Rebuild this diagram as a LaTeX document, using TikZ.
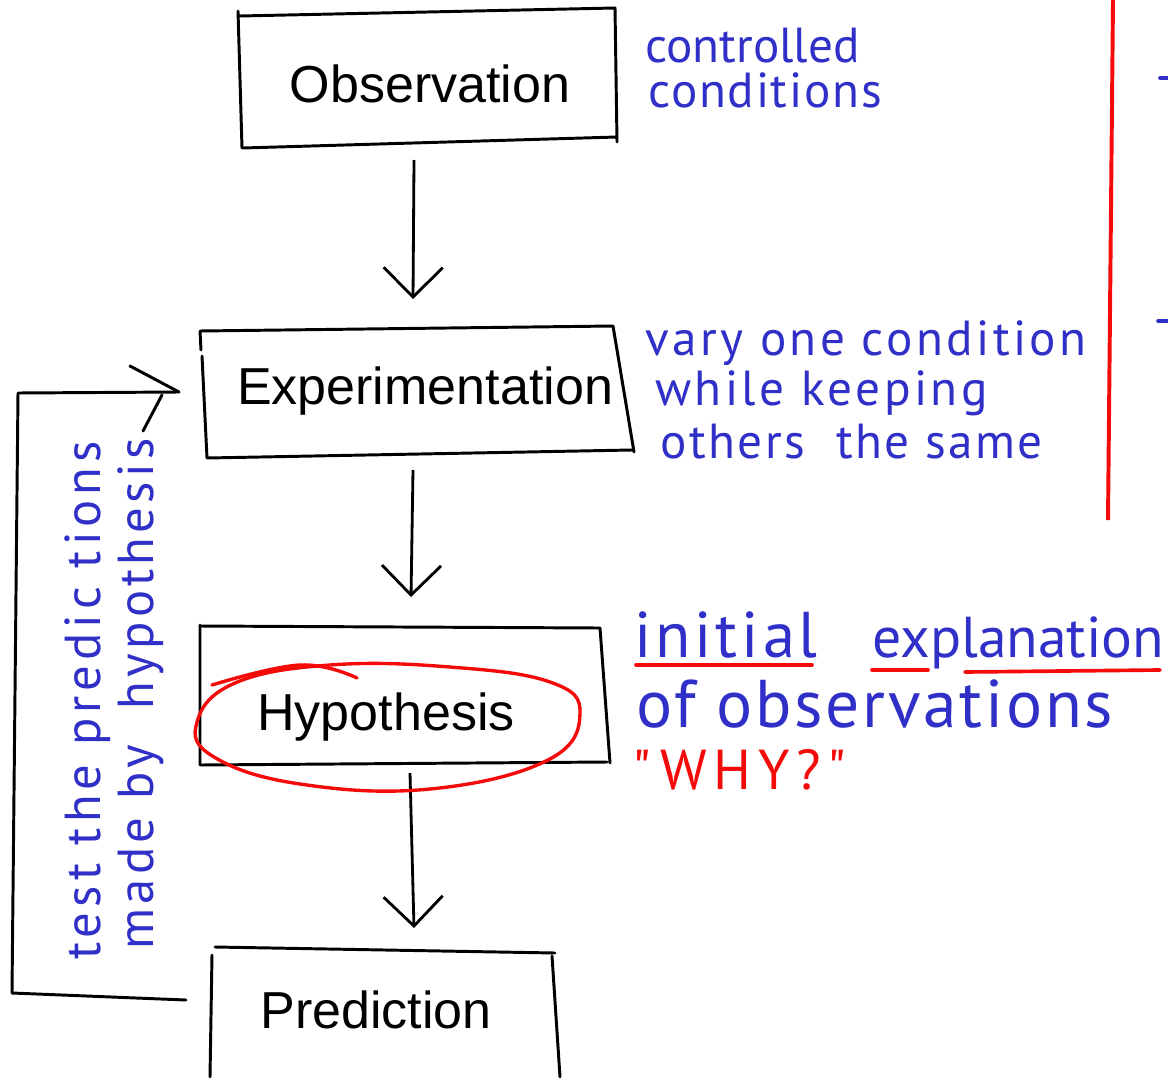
\documentclass[tikz,border=0pt]{standalone}
\usepackage{fontspec}
\setmainfont{Liberation Sans}
\newfontfamily\hand{PT Sans}
\usetikzlibrary{arrows.meta}
\definecolor{handblue}{RGB}{48,48,200}
\definecolor{handred}{RGB}{245,10,10}
\newcommand{\hw}[2]{\hand\fontsize{#1}{#1}\selectfont\addfontfeature{LetterSpace=#2}}
\tikzset{
  boxline/.style={draw=black, line width=2.1pt, line cap=round, line join=round},
  boxtext/.style={font=\fontsize{37}{37}\selectfont, inner sep=0pt},
  flow/.style={draw=black, line width=2pt, -{Straight Barb[length=21pt, width=42pt, line width=2pt]}},
  bluetext/.style={text=handblue, inner sep=0pt, anchor=base west},
  redtext/.style={text=handred, inner sep=0pt, anchor=base west},
  redline/.style={draw=handred, line width=2.6pt, line cap=round},
}
\begin{document}
\begin{tikzpicture}[x=0.025cm, y=-0.025cm]
\useasboundingbox[fill=white] (0,0) rectangle (1168,1077);

% Observation box
\draw[boxline] (238,11) -- (242,148) (240,16) -- (615,8) -- (617,142) (243,148) -- (617,137);
\node[boxtext] (obs) at (430,84) {Observation};
\coordinate (obsB) at (414,160);

% Experimentation box
\draw[boxline] (200,331) -- (201,350) (202,356) -- (207,458) (200,331) -- (613,326) -- (634,452) (207,458) -- (632,450);
\node[boxtext] (exp) at (425,391) {Experimentation};
\coordinate (expT) at (413,299);
\coordinate (expB) at (413,470);
\coordinate (expL) at (179,392);

% Hypothesis box
\draw[boxline] (200,625) -- (200,765) (200,626) -- (600,628) -- (610,763) (200,765) -- (607,762);
\node[boxtext] (hyp) at (386,717) {Hypothesis};
\coordinate (hypT) at (411,597);
\coordinate (hypB) at (410,773);

% Prediction box
\draw[boxline] (212,955) -- (210,1077) (215,947) -- (555,953) (552,956) -- (560,1077);
\node[boxtext] (pred) at (376,1010) {Prediction};
\coordinate (predT) at (414,928);
\coordinate (predL) at (186,1000);

% flow arrows
\draw[flow] (obsB) -- (expT);
\draw[flow] (expB) -- (hypT);
\draw[flow] (hypB) -- (predT);

% feedback loop
\coordinate (c1) at (12,993);
\coordinate (c2) at (18,393);
\draw[boxline] (predL) -- (c1) -- (c2) -- (expL);
\coordinate (h1) at (130,366);
\coordinate (h2) at (162,395);
\coordinate (h3) at (143,431);
\draw[boxline] (h1) -- (expL) (h2) -- (h3);

% red ellipse around Hypothesis
\draw[draw=handred, line width=2.4pt] plot[smooth cycle, tension=0.7] coordinates {(197,722) (235,683) (330,665) (450,667) (550,682) (580,713) (548,760) (430,789) (300,784) (214,757)};
\draw[draw=handred, line width=2.4pt, line cap=round] plot[smooth, tension=0.7] coordinates {(212,685) (300,665) (357,678)};

% red vertical line and blue dashes
\coordinate (r1) at (1113,0);
\coordinate (r2) at (1108,520);
\draw[draw=handred, line width=2.8pt] (r1) -- (r2);
\draw[draw=handblue, line width=2.6pt, line cap=round] (1160,78) -- (1170,78) (1158,321) -- (1170,321);

% handwritten notes
\node[bluetext, font={\hw{35}{0}}] (n1) at (645,63) {controlled};
\node[bluetext, font={\hw{35}{3.5}}] (n2) at (648,108) {conditions};
\node[bluetext, font={\hw{35}{7}}] (n3) at (645,355) {vary one condition};
\node[bluetext, font={\hw{35}{7}}] (n4) at (655,405) {while keeping};
\node[bluetext, font={\hw{35}{5}}] (n5) at (660,458) {others\ \ the same};
\node[bluetext, font={\hw{46}{6}}] (n6a) at (634,657) {initial};
\node[bluetext, font={\hw{41}{0}}] (n6b) at (872,657) {explanation};
\node[bluetext, font={\hw{48}{4}}] (n7) at (636,727) {of observations};
\node[redtext, font={\hw{40}{12}}] (n8) at (632,789) {"WHY?"};
\draw[redline] (636,665) -- (812,665);
\draw[redline] (872,670) -- (928,670);
\draw[redline] (965,672) -- (1160,670);

% rotated notes on the loop
\node[bluetext, font={\hw{36}{10}}, rotate=90] (n9) at (100,960) {test the predic tions};
\node[bluetext, font={\hw{36}{8.5}}, rotate=90] (n10) at (153,950) {made by\ \ hypothesis};
\end{tikzpicture}
\end{document}
